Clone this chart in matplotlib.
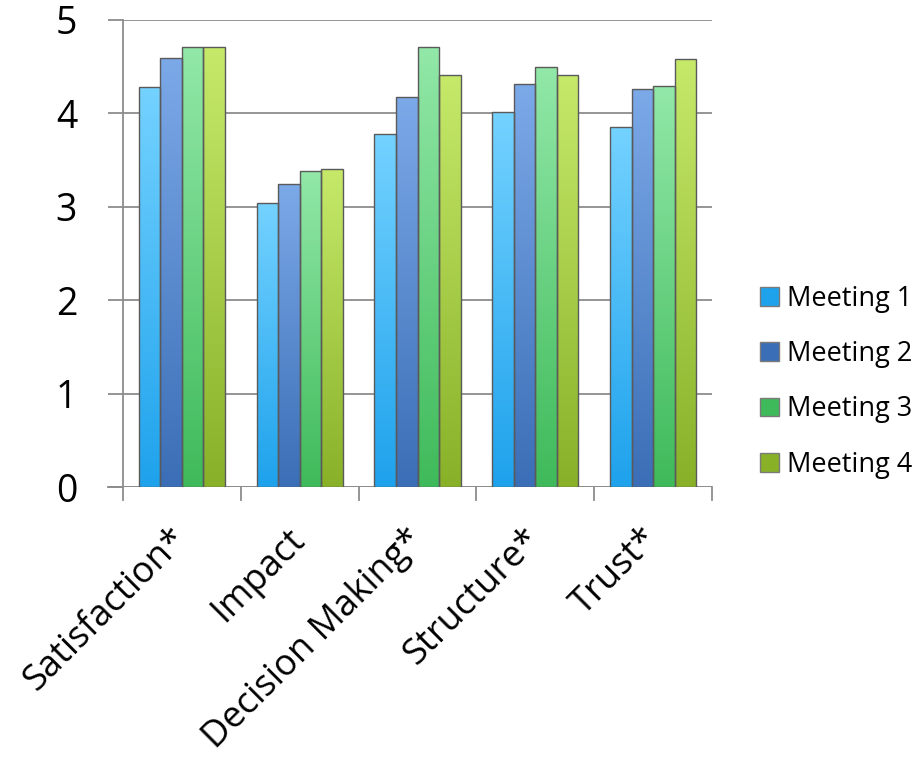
import numpy as np
import matplotlib
matplotlib.use("Agg")
import matplotlib.pyplot as plt
from matplotlib.colors import LinearSegmentedColormap
from matplotlib.patches import Patch

# Survey scores per category for each meeting
categories = ['Satisfaction*', 'Impact', 'Decision Making*', 'Structure*', 'Trust*']
series_names = ['Meeting 1', 'Meeting 2', 'Meeting 3', 'Meeting 4']
meeting1 = [4.28, 3.04, 3.78, 4.01, 3.85]
meeting2 = [4.59, 3.24, 4.18, 4.31, 4.26]
meeting3 = [4.71, 3.38, 4.71, 4.50, 4.29]
meeting4 = [4.71, 3.40, 4.41, 4.41, 4.58]

# (top colour, bottom colour) for each series gradient
shades = [('#74d2ff', '#1ea2ec'),
          ('#7ca9e8', '#3a6eb6'),
          ('#92e8a8', '#3fba5a'),
          ('#c6e96a', '#88b128')]

plt.rcParams['font.family'] = ['Open Sans', 'DejaVu Sans']

fig = plt.figure(figsize=(9.19, 7.63), dpi=100)
ax = fig.add_axes([0.1338, 0.3617, 0.641, 0.6121])

x = np.arange(len(categories))
width = 0.183
offsets = (np.arange(4) - 1.5) * width
grad = np.linspace(0, 1, 256).reshape(-1, 1)

for vals, off, (top, bottom) in zip([meeting1, meeting2, meeting3, meeting4], offsets, shades):
    bars = ax.bar(x + off, vals, width, color='none', edgecolor='#5a5a5a', linewidth=1.0, zorder=3)
    cmap = LinearSegmentedColormap.from_list('g', [bottom, top])
    for b in bars:
        x0, y0 = b.get_x(), b.get_y()
        im = ax.imshow(grad, cmap=cmap, origin='lower', aspect='auto',
                       extent=[x0, x0 + b.get_width(), y0, y0 + b.get_height()], zorder=2)
        im.set_clip_path(b)

ax.set_xlim(-0.5, len(categories) - 0.5)
ax.set_ylim(0, 5)

# gridlines and axis styling
ax.set_yticks(range(6))
ax.yaxis.grid(True, color='#8c8c8c', linewidth=1.3, zorder=0)
ax.set_axisbelow(True)
for side in ['top', 'right', 'bottom']:
    ax.spines[side].set_visible(False)
ax.spines['left'].set_color('#8c8c8c')
ax.spines['left'].set_linewidth(1.3)
ax.axhline(0, color='#8c8c8c', linewidth=1.3, zorder=1)

ax.tick_params(axis='y', length=11, width=1.3, color='#8c8c8c', pad=22, labelsize=27)
ax.set_xticks(x)
ax.set_xticklabels(categories, rotation=45, ha='right', va='center',
                   rotation_mode='anchor', fontsize=26)
ax.tick_params(axis='x', length=0, pad=34)

# category separator ticks below the axis
for b in np.arange(len(categories) + 1) - 0.5:
    ax.plot([b, b], [0, -0.14], color='#8c8c8c', linewidth=1.3, clip_on=False)
ax.plot([-0.5 - 0.13, -0.5], [0, 0], color='#8c8c8c', linewidth=1.3, clip_on=False)

handles = [Patch(facecolor=bottom, edgecolor='#7a7a7a') for top, bottom in shades]
ax.legend(handles, series_names, loc='center left', bbox_to_anchor=(1.04, 0.225),
          frameon=False, fontsize=19.5, handlelength=0.7, handleheight=0.7,
          handletextpad=0.3, labelspacing=1.0)

fig.savefig('out.png', dpi=100)
